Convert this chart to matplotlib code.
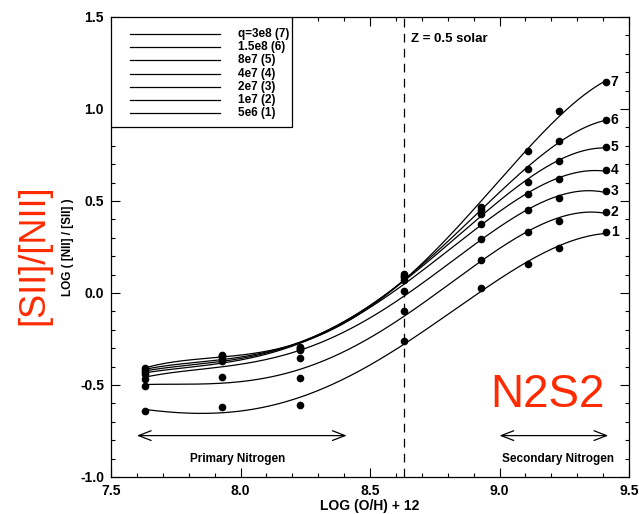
import numpy as np
import matplotlib
matplotlib.use("Agg")
import matplotlib.pyplot as plt

plt.rcParams['font.family'] = ['Liberation Sans', 'DejaVu Sans']

# metallicity grid, 12 + log(O/H)
oh = [7.63, 7.93, 8.23, 8.63, 8.93, 9.11, 9.23, 9.41]

# log([NII]/[SII]) for each ionization parameter q
q7 = [-0.41, -0.335, -0.295, 0.105, 0.47, 0.773, 0.989, 1.145]
q6 = [-0.42, -0.34, -0.30, 0.095, 0.45, 0.672, 0.826, 0.94]
q5 = [-0.43, -0.345, -0.305, 0.085, 0.43, 0.605, 0.717, 0.795]
q4 = [-0.44, -0.355, -0.31, 0.07, 0.373, 0.538, 0.618, 0.668]
q3 = [-0.465, -0.37, -0.355, 0.01, 0.292, 0.451, 0.515, 0.554]
q2 = [-0.505, -0.458, -0.46, -0.10, 0.178, 0.333, 0.393, 0.442]
q1 = [-0.64, -0.621, -0.607, -0.26, 0.027, 0.158, 0.243, 0.333]

models = [q7, q6, q5, q4, q3, q2, q1]
numbers = [7, 6, 5, 4, 3, 2, 1]
labels = ["q=3e8 (7)", "1.5e8 (6)", "8e7 (5)", "4e7 (4)",
          "2e7 (3)", "1e7 (2)", "5e6 (1)"]

z_half = 8.63

W, H = 639, 514
fig = plt.figure(figsize=(W/100, H/100), dpi=100)
ax = fig.add_axes([111/W, 1-477/H, 518/W, 460/H])

xs = np.linspace(oh[0], oh[-1], 300)
for vals, n in zip(models, numbers):
    c = np.polyfit(oh, vals, 4)
    ax.plot(xs, np.polyval(c, xs), color='k', lw=0.9)
    ax.plot(oh, vals, 'o', color='k', ms=4.5, mec='k')
    ax.text(oh[-1] + 0.02, vals[-1], str(n), fontsize=10, fontweight='bold',
            va='center', ha='left')

ax.axvline(z_half, color='k', lw=0.9, dashes=(7, 5))
ax.text(z_half + 0.03, 1.38, "Z = 0.5 solar", fontsize=9.5, fontweight='bold',
        va='center')

ax.set_xlim(7.5, 9.5)
ax.set_ylim(-1.0, 1.5)
ax.set_xticks([7.5, 8.0, 8.5, 9.0, 9.5])
ax.set_yticks([-1.0, -0.5, 0.0, 0.5, 1.0, 1.5])
ax.set_xticks(np.arange(7.5, 9.51, 0.1), minor=True)
ax.set_yticks(np.arange(-1.0, 1.51, 0.1), minor=True)
ax.xaxis.set_major_formatter(matplotlib.ticker.FormatStrFormatter('%.1f'))
ax.yaxis.set_major_formatter(matplotlib.ticker.FormatStrFormatter('%.1f'))
ax.tick_params(which='both', direction='in', top=True, right=True,
               labelsize=10, width=0.8)
ax.tick_params(which='major', length=6.5, pad=5)
ax.tick_params(which='minor', length=3)
for t in ax.get_xticklabels() + ax.get_yticklabels():
    t.set_fontweight('bold')
for s in ax.spines.values():
    s.set_linewidth(0.9)

ax.set_xlabel("LOG (O/H) + 12", fontsize=10, fontweight='bold', labelpad=1)
ax.set_ylabel("LOG ( [NII] / [SII] )", fontsize=8.5, fontweight='bold', labelpad=4)

# legend box drawn by hand in pixel offsets from the top-left corner
box_w, box_h = 181, 110
ax.add_patch(plt.Rectangle((0, 1 - box_h/460), box_w/518, box_h/460,
                           transform=ax.transAxes, fc='white', ec='k',
                           lw=0.9, zorder=5))
for i, lab in enumerate(labels):
    yy = 1 - (17 + 13.2*i)/460
    ax.plot([19/518, 109/518], [yy, yy], color='k', lw=0.9,
            transform=ax.transAxes, zorder=6)
    ax.text(127/518, yy, lab, fontsize=8.5, fontweight='bold', va='center',
            transform=ax.transAxes, zorder=6)

# primary / secondary nitrogen regimes
arrow = dict(arrowstyle='<->,head_length=0.9,head_width=0.35', lw=0.9,
             color='k', shrinkA=0, shrinkB=0)
ax.annotate('', xy=(7.6, -0.775), xytext=(8.41, -0.775), arrowprops=arrow)
ax.annotate('', xy=(9.0, -0.775), xytext=(9.42, -0.775), arrowprops=arrow)
ax.text(7.99, -0.9, "Primary Nitrogen", fontsize=8.5, fontweight='bold',
        ha='center', va='center')
ax.text(9.225, -0.9, "Secondary Nitrogen", fontsize=8.5, fontweight='bold',
        ha='center', va='center')

ax.text(9.187, -0.62, "N2S2", fontsize=33, color='#ff2a00',
        ha='center', va='baseline')
fig.text(34/W, 1-255/H, "[SII]/[NII]", fontsize=26, color='#ff2a00',
         rotation=90, ha='center', va='center')

fig.savefig("out.png", dpi=100)
